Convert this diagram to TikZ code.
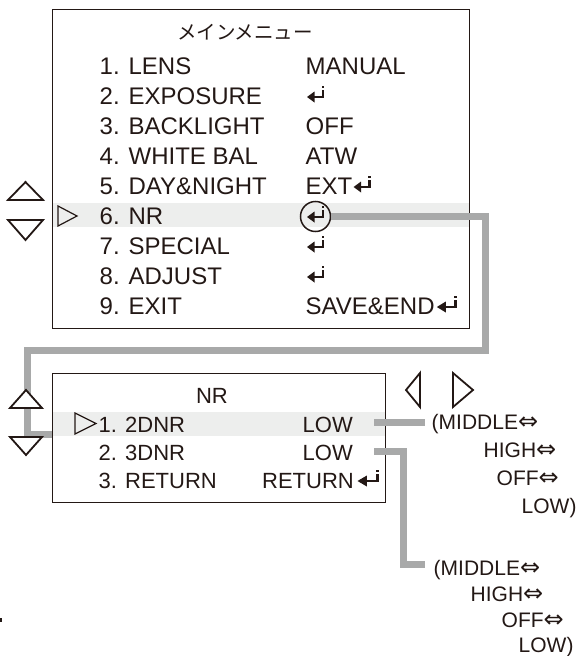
\documentclass[tikz,border=0pt]{standalone}
\usepackage{fontspec}
\setmainfont{Liberation Sans}
\newfontfamily\jpfont{Noto Sans CJK JP}
\newfontfamily\symfont{DejaVu Sans}
\definecolor{ink}{HTML}{231815}
\definecolor{bandgray}{HTML}{EDEEED}
\definecolor{conngray}{HTML}{A8A9A9}
\tikzset{
  menutext/.style={font=\fontsize{24}{24}\selectfont, text=ink, inner sep=0pt, anchor=base west},
  subtext/.style={font=\fontsize{22}{22}\selectfont, text=ink, inner sep=0pt, anchor=base west},
  opttext/.style={font=\fontsize{21}{21}\selectfont, text=ink, inner sep=0pt, anchor=base west},
  boxframe/.style={draw=ink, line width=1.2pt, inner sep=0pt, anchor=north west},
  connline/.style={draw=conngray, line width=7pt, line join=miter},
  navtri/.style={draw=ink, line width=1.8pt, fill=white, line join=miter},
  pointtri/.style={draw=ink, line width=1.2pt, fill=none, line join=miter},
  ent/.pic={
    \fill[ink] (0,-7) -- (7.5,-12.5) -- (7.5,-1.5) -- cycle;
    \fill[ink] (7,-5.8) rectangle (17,-8.2);
    \fill[ink] (14.6,-5.8) rectangle (17,-14.5);
    \fill[ink] (14.6,-16) rectangle (17,-18.5);
  }
}
\newcommand{\dbl}{{\symfont\fontsize{24}{24}\selectfont ⇔}}
\begin{document}
\begin{tikzpicture}[x=1pt,y=-1pt]
\useasboundingbox (0,0) rectangle (576,656);
% ---------- main menu ----------
\fill[bandgray] (52,203) rectangle (469,227);
\node[boxframe, minimum width=417pt, minimum height=319pt] (mainbox) at (52,9) {};
\node[font=\jpfont\fontsize{19.5}{19.5}\selectfont, text=ink, inner sep=0pt] (mtitle) at (245,32.5) {メインメニュー};
\node[menutext] (m1) at (99.5,74) {1. LENS};
\node[menutext] (m2) at (99.5,104) {2. EXPOSURE};
\node[menutext] (m3) at (99.5,134) {3. BACKLIGHT};
\node[menutext] (m4) at (99.5,164) {4. WHITE BAL};
\node[menutext] (m5) at (99.5,194) {5. DAY\&NIGHT};
\node[menutext] (m6) at (99.5,224) {6. NR};
\node[menutext] (m7) at (99.5,254) {7. SPECIAL};
\node[menutext] (m8) at (99.5,284) {8. ADJUST};
\node[menutext] (m9) at (99.5,314) {9. EXIT};
\node[menutext] (v1) at (305.5,74) {MANUAL};
\pic at (307,104) {ent};
\node[menutext] (v3) at (305.5,134) {OFF};
\node[menutext] (v4) at (305.5,164) {ATW};
\node[menutext] (v5) at (305.5,194) {EXT};
\pic at ([xshift=1pt]v5.base east) {ent};
\pic at (307,224) {ent};
\node[draw=ink, line width=1.5pt, circle, minimum size=30pt, inner sep=0pt] (circ) at (315.5,216.5) {};
\pic at (307,254) {ent};
\pic at (307,284) {ent};
\node[menutext] (v9) at (305.5,314) {SAVE\&END};
\pic[xscale=1.2] at ([xshift=2pt]v9.base east) {ent};
\draw[pointtri] (58,206) -- (77,216) -- (58,226) -- cycle;
% ---------- NR menu ----------
\fill[bandgray] (52,412) rectangle (385,436);
\node[boxframe, minimum width=333pt, minimum height=129pt] (nrbox) at (52,373) {};
\node[subtext, anchor=base] (ntitle) at (212,403) {NR};
\node[subtext] (n1) at (98.5,432) {1. 2DNR};
\node[subtext] (n2) at (98.5,460) {2. 3DNR};
\node[subtext] (n3) at (98.5,488) {3. RETURN};
\node[subtext, anchor=base east] (w1) at (353,432) {LOW};
\node[subtext, anchor=base east] (w2) at (353,460) {LOW};
\node[subtext, anchor=base east] (w3) at (354,488) {RETURN};
\pic[xscale=1.25] at ([xshift=3.5pt]w3.base east) {ent};
\draw[pointtri] (75,413) -- (96,423.5) -- (75,434) -- cycle;
% ---------- options ----------
\node[opttext] (o1a) at (431.5,429.5) {(MIDDLE\dbl};
\node[opttext] (o1b) at (483.5,457) {HIGH\dbl};
\node[opttext] (o1c) at (496.5,485) {OFF\dbl};
\node[opttext] (o1d) at (521.5,513) {LOW)};
\node[opttext] (o2a) at (433.5,575) {(MIDDLE\dbl};
\node[opttext] (o2b) at (470.5,601.5) {HIGH\dbl};
\node[opttext] (o2c) at (501.5,627.5) {OFF\dbl};
\node[opttext] (o2d) at (518.5,652) {LOW)};
% ---------- connectors ----------
\coordinate (k1) at (485,216.5);
\coordinate (k2) at (485,350);
\coordinate (k3) at (27.5,350);
\coordinate (k4) at (27.5,434);
\draw[connline] (circ.east) -- (k1) -- (k2) -- (k3) -- (k4) -- (nrbox.west |- k4);
\coordinate (r1s) at (374,422.5);
\coordinate (r1e) at (425,422.5);
\draw[connline] (r1s) -- (r1e);
\coordinate (r2s) at (374,451);
\coordinate (r2m) at (403,451);
\coordinate (r2n) at (403,564);
\coordinate (r2e) at (425,564);
\draw[connline] (r2s) -- (r2m) -- (r2n) -- (r2e);
% ---------- navigation triangles ----------
\draw[navtri] (8,200) -- (25.5,182) -- (43,200) -- cycle;
\draw[navtri] (8,220) -- (25.5,240) -- (43,220) -- cycle;
\draw[navtri] (10,408) -- (26,390) -- (42,408) -- cycle;
\draw[navtri] (10,437) -- (26,455) -- (42,437) -- cycle;
\draw[navtri] (420,373) -- (406,390) -- (420,407) -- cycle;
\draw[navtri] (453,373) -- (473,390) -- (453,407) -- cycle;
% small mark at the left edge
\fill[ink] (0,618) rectangle (2,621.5);
\end{tikzpicture}
\end{document}
